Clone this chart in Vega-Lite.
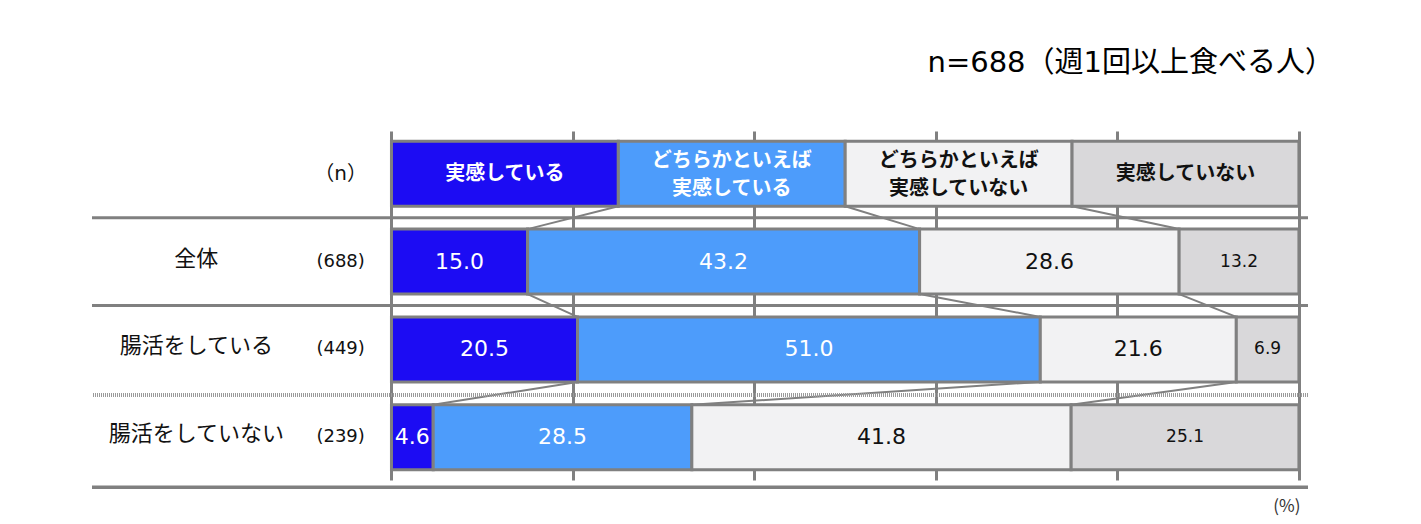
{
  "$schema": "https://vega.github.io/schema/vega-lite/v6.json",
  "width": 1216,
  "height": 349,
  "autosize": "none",
  "padding": {"left": 92, "top": 131, "right": 113, "bottom": 44},
  "title": {"text": "n=688（週1回以上食べる人）", "anchor": "end", "dx": 24, "offset": 30, "baseline": "alphabetic", "fontSize": 29, "fontWeight": "normal", "font": "DejaVu Sans, Noto Sans CJK JP", "color": "#000000"},
  "config": {"view": {"stroke": null}, "font": "Noto Sans CJK JP", "text": {"font": "Noto Sans CJK JP"}},
  "datasets": {
    "segs": [
      {"row": "header", "cat": "実感している", "k": 1, "value": 25, "label": "実感している", "lines": 1},
      {"row": "header", "cat": "どちらかといえば実感している", "k": 2, "value": 25, "label": "どちらかといえば\n実感している", "lines": 2},
      {"row": "header", "cat": "どちらかといえば実感していない", "k": 3, "value": 25, "label": "どちらかといえば\n実感していない", "lines": 2},
      {"row": "header", "cat": "実感していない", "k": 4, "value": 25, "label": "実感していない", "lines": 1},
      {"row": "全体", "cat": "実感している", "k": 1, "value": 15.0, "label": "15.0"},
      {"row": "全体", "cat": "どちらかといえば実感している", "k": 2, "value": 43.2, "label": "43.2"},
      {"row": "全体", "cat": "どちらかといえば実感していない", "k": 3, "value": 28.6, "label": "28.6"},
      {"row": "全体", "cat": "実感していない", "k": 4, "value": 13.2, "label": "13.2"},
      {"row": "腸活をしている", "cat": "実感している", "k": 1, "value": 20.5, "label": "20.5"},
      {"row": "腸活をしている", "cat": "どちらかといえば実感している", "k": 2, "value": 51.0, "label": "51.0"},
      {"row": "腸活をしている", "cat": "どちらかといえば実感していない", "k": 3, "value": 21.6, "label": "21.6"},
      {"row": "腸活をしている", "cat": "実感していない", "k": 4, "value": 6.9, "label": "6.9"},
      {"row": "腸活をしていない", "cat": "実感している", "k": 1, "value": 4.6, "label": "4.6"},
      {"row": "腸活をしていない", "cat": "どちらかといえば実感している", "k": 2, "value": 28.5, "label": "28.5"},
      {"row": "腸活をしていない", "cat": "どちらかといえば実感していない", "k": 3, "value": 41.8, "label": "41.8"},
      {"row": "腸活をしていない", "cat": "実感していない", "k": 4, "value": 25.1, "label": "25.1"}
    ],
    "rows": [
      {"row": "header", "name": "", "n": "（n）"},
      {"row": "全体", "name": "全体", "n": "(688)"},
      {"row": "腸活をしている", "name": "腸活をしている", "n": "(449)"},
      {"row": "腸活をしていない", "name": "腸活をしていない", "n": "(239)"}
    ],
    "conns": [
      {"r1": "header", "r2": "全体", "a": 25, "b": 15.0},
      {"r1": "header", "r2": "全体", "a": 50, "b": 58.2},
      {"r1": "header", "r2": "全体", "a": 75, "b": 86.8},
      {"r1": "全体", "r2": "腸活をしている", "a": 15.0, "b": 20.5},
      {"r1": "全体", "r2": "腸活をしている", "a": 58.2, "b": 71.5},
      {"r1": "全体", "r2": "腸活をしている", "a": 86.8, "b": 93.1},
      {"r1": "腸活をしている", "r2": "腸活をしていない", "a": 20.5, "b": 4.6},
      {"r1": "腸活をしている", "r2": "腸活をしていない", "a": 71.5, "b": 33.1},
      {"r1": "腸活をしている", "r2": "腸活をしていない", "a": 93.1, "b": 74.9}
    ]
  },
  "layer": [
    {
      "data": {"name": "segs"},
      "mark": {"type": "bar", "stroke": "#808080", "strokeWidth": 3},
      "encoding": {
        "y": {"field": "row", "type": "nominal", "scale": {"domain": ["header", "全体", "腸活をしている", "腸活をしていない"], "paddingInner": 0.26, "paddingOuter": 0.117}, "axis": null},
        "x": {"field": "value", "type": "quantitative", "stack": "zero", "scale": {"domain": [-33, 101], "nice": false, "zero": false},
          "axis": {"orient": "bottom", "values": [0, 20, 40, 60, 80, 100], "grid": true, "gridColor": "#808080", "gridWidth": 3, "gridOpacity": 1, "labels": false, "ticks": false, "domain": false, "title": "(%)", "titleAnchor": "end", "titleAlign": "right", "titleX": 1208, "titleFontSize": 17, "titleFontWeight": "normal", "titleColor": "#333333", "titlePadding": 18, "titleFont": "Noto Sans CJK JP"}},
        "fill": {"field": "cat", "type": "nominal", "scale": {"domain": ["実感している", "どちらかといえば実感している", "どちらかといえば実感していない", "実感していない"], "range": ["#1c0cf3", "#4d9cfb", "#f2f2f3", "#d9d8da"]}, "legend": null},
        "order": {"field": "k", "type": "quantitative"}
      }
    },
    {
      "data": {"name": "segs"},
      "transform": [{"filter": "datum.row === 'header'"}],
      "mark": {"type": "text", "fontWeight": "bold", "fontSize": 20, "align": "center", "baseline": "middle"},
      "encoding": {
        "y": {"field": "row", "type": "nominal"},
        "x": {"field": "value", "type": "quantitative", "stack": "zero", "bandPosition": 0.5},
        "order": {"field": "k", "type": "quantitative"},
        "color": {"field": "cat", "type": "nominal", "scale": {"domain": ["実感している", "どちらかといえば実感している", "どちらかといえば実感していない", "実感していない"], "range": ["#ffffff", "#ffffff", "#111111", "#111111"]}, "legend": null},
        "text": {"condition": {"test": "datum.lines === 1", "field": "label"}, "value": ""}
      }
    },
    {
      "data": {"name": "segs"},
      "transform": [{"filter": "datum.row === 'header'"}],
      "mark": {"type": "text", "fontWeight": "bold", "fontSize": 20, "lineBreak": "\n", "lineHeight": 28, "align": "center", "baseline": "middle", "dy": -13},
      "encoding": {
        "y": {"field": "row", "type": "nominal"},
        "x": {"field": "value", "type": "quantitative", "stack": "zero", "bandPosition": 0.5},
        "order": {"field": "k", "type": "quantitative"},
        "color": {"field": "cat", "type": "nominal", "legend": null},
        "text": {"condition": {"test": "datum.lines === 2", "field": "label"}, "value": ""}
      }
    },
    {
      "data": {"name": "segs"},
      "transform": [{"filter": "datum.row !== 'header'"}],
      "mark": {"type": "text", "align": "center", "baseline": "middle", "font": "DejaVu Sans"},
      "encoding": {
        "y": {"field": "row", "type": "nominal"},
        "x": {"field": "value", "type": "quantitative", "stack": "zero", "bandPosition": 0.5},
        "order": {"field": "k", "type": "quantitative"},
        "color": {"field": "cat", "type": "nominal", "legend": null},
        "size": {"condition": {"test": "datum.cat === '実感していない'", "value": 17}, "value": 22},
        "text": {"field": "label"}
      }
    },
    {
      "data": {"name": "rows"},
      "mark": {"type": "text", "fontSize": 22, "align": "center", "baseline": "middle", "color": "#111111", "dy": -3},
      "encoding": {
        "y": {"field": "row", "type": "nominal"},
        "x": {"datum": -21.5, "type": "quantitative"},
        "text": {"field": "name"}
      }
    },
    {
      "data": {"name": "rows"},
      "mark": {"type": "text", "align": "center", "baseline": "middle", "color": "#111111", "font": "DejaVu Sans, Noto Sans CJK JP"},
      "encoding": {
        "y": {"field": "row", "type": "nominal"},
        "x": {"datum": -5.6, "type": "quantitative"},
        "size": {"condition": {"test": "datum.row === 'header'", "value": 20}, "value": 18},
        "text": {"field": "n"}
      }
    },
    {
      "data": {"name": "conns"},
      "mark": {"type": "rule", "color": "#808080", "strokeWidth": 2},
      "encoding": {
        "x": {"field": "a", "type": "quantitative"},
        "x2": {"field": "b"},
        "y": {"field": "r1", "type": "nominal", "bandPosition": 1},
        "y2": {"field": "r2", "bandPosition": 0}
      }
    },
    {
      "data": {"name": "rows"},
      "transform": [{"filter": "datum.row === 'header' || datum.row === '全体'"}],
      "mark": {"type": "rule", "color": "#808080", "strokeWidth": 3},
      "encoding": {
        "y": {"field": "row", "type": "nominal", "bandPosition": 1.175}
      }
    },
    {
      "data": {"name": "rows"},
      "transform": [{"filter": "datum.row === '腸活をしている'"}],
      "mark": {"type": "rule", "color": "#9a9a9a", "strokeWidth": 4, "strokeDash": [1, 1]},
      "encoding": {
        "y": {"field": "row", "type": "nominal", "bandPosition": 1.2}
      }
    },
    {
      "data": {"name": "rows"},
      "transform": [{"filter": "datum.row === '腸活をしていない'"}],
      "mark": {"type": "rule", "color": "#808080", "strokeWidth": 3.5},
      "encoding": {
        "y": {"field": "row", "type": "nominal", "bandPosition": 1.27}
      }
    }
  ]
}
